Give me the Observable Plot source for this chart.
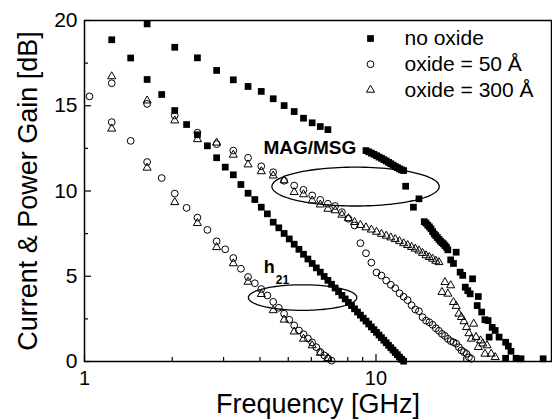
<!DOCTYPE html>
<html><head><meta charset="utf-8">
<script src="https://cdn.jsdelivr.net/npm/d3@7"></script>
<script src="https://cdn.jsdelivr.net/npm/@observablehq/plot@0.6"></script>
<style>body{margin:0;background:#fff}#chart svg{display:block}</style>
</head><body><div id="chart"></div>
<script>
// ---- data: [frequency GHz, gain dB] ----
const noOxideH21 = [[1.24,18.87],[1.44,17.8],[1.64,16.54],[1.84,15.66],[2.04,14.72],[2.24,13.9],[2.44,13.3],[2.64,12.65],[2.84,11.95],[3.04,11.4],[3.24,10.95],[3.44,10.38],[3.64,9.87],[3.84,9.5],[4.04,9.05],[4.24,8.66],[4.44,8.17],[4.64,7.84],[4.84,7.51],[5.04,7.19],[5.24,6.88],[5.44,6.58],[5.64,6.29],[5.84,6.01],[6.04,5.75],[6.24,5.49],[6.44,5.24],[6.64,4.99],[6.84,4.76],[7.04,4.53],[7.24,4.31],[7.44,4.09],[7.64,3.88],[7.84,3.67],[8.04,3.47],[8.24,3.28],[8.44,3.09],[8.64,2.9],[8.84,2.72],[9.04,2.54],[9.24,2.37],[9.44,2.2],[9.64,2.03],[9.84,1.87],[10.04,1.71],[10.24,1.55],[10.44,1.4],[10.64,1.25],[10.84,1.1],[11.04,0.95],[11.24,0.81],[11.44,0.67],[11.64,0.53],[11.84,0.4],[12.04,0.26],[12.24,0.13],[12.44,0.02]];
const noOxideMAG = [[1.64,19.8],[2.04,18.43],[2.44,17.81],[2.84,17.07],[3.24,16.52],[3.64,16.13],[4.04,15.84],[4.44,15.41],[4.84,15.01],[5.24,14.66],[5.64,14.27],[6.04,14.0],[6.44,13.78],[6.84,13.6],[9.24,12.37],[9.44,12.3],[9.64,12.22],[9.84,12.15],[10.04,12.07],[10.24,11.99],[10.44,11.92],[10.64,11.84],[10.84,11.76],[11.04,11.68],[11.24,11.6],[11.44,11.52],[11.64,11.44],[11.84,11.37],[12.04,11.3],[12.24,11.24],[12.44,11.2],[12.64,10.28],[13.44,9.05],[14.04,9.54],[14.64,8.2],[14.84,8.12],[15.04,8.0],[15.24,7.9],[15.44,7.78],[15.64,7.62],[15.84,7.48],[16.04,7.38],[16.24,7.27],[16.44,7.16],[16.64,7.06],[16.84,6.97],[17.04,6.9],[17.24,6.8],[17.44,6.7],[17.64,6.55],[18.04,5.96],[18.44,5.75],[18.84,6.41],[19.44,5.24],[19.84,5.05],[20.24,4.36],[20.64,4.15],[21.04,3.97],[21.44,4.85],[22.24,3.28],[22.44,3.81],[23.04,2.9],[23.64,2.45],[24.24,2.4],[24.44,1.43],[25.04,2.0],[25.64,1.82],[26.44,1.43],[27.84,1.13],[27.84,0.19],[28.44,0.9],[29.04,0.6],[30.24,0.19],[31.44,0.16],[37.44,0.16]];
const oxide50H21 = [[1.04,15.55],[1.24,14.04],[1.44,12.94],[1.64,11.7],[1.84,10.76],[2.04,9.85],[2.24,9.01],[2.44,8.44],[2.64,7.72],[2.84,7.05],[3.04,6.58],[3.24,6.07],[3.44,5.44],[3.64,4.96],[3.84,4.59],[4.04,4.25],[4.24,3.87],[4.44,3.5],[4.64,3.15],[4.84,2.8],[5.04,2.45],[5.24,2.12],[5.44,1.82],[5.64,1.6],[5.84,1.35],[6.04,1.12],[6.24,0.84],[6.44,0.56],[6.64,0.36],[6.84,0.18],[7.04,0.05]];
const oxide50MAG = [[1.24,16.32],[1.64,15.11],[2.04,14.43],[2.44,13.42],[2.84,12.75],[3.24,12.37],[3.64,11.95],[4.04,11.45],[4.44,11.1],[4.84,10.6],[5.24,10.32],[5.64,10.07],[6.04,9.74],[6.44,9.48],[6.84,9.25],[7.24,9.12],[7.64,8.76],[8.04,8.37],[8.44,7.98],[8.84,6.94],[9.24,6.35],[9.64,5.8],[10.04,5.22],[10.44,5.04],[10.84,4.75],[11.24,4.5],[11.64,4.3],[12.04,4.0],[12.44,3.8],[12.84,3.6],[13.24,3.3],[13.64,3.05],[14.04,2.95],[14.44,2.6],[14.84,2.4],[15.24,2.3],[15.64,2.15],[16.04,1.95],[16.44,1.8],[16.84,1.62],[17.24,1.5],[17.64,1.33],[18.04,1.2],[18.44,1.13],[18.84,1.05],[19.24,0.84],[19.64,0.65],[20.04,0.55],[20.44,0.45],[20.84,0.25],[21.24,0.16]];
const oxide300H21 = [[1.24,13.65],[1.64,11.36],[2.04,9.34],[2.44,8.11],[2.84,6.7],[3.24,5.75],[3.64,4.67],[4.04,3.95],[4.44,3.0],[4.84,2.45],[5.24,1.75],[5.64,1.33],[6.04,0.94],[6.44,0.5],[6.84,0.2]];
const oxide300MAG = [[1.24,16.72],[1.64,15.3],[2.04,14.13],[2.44,13.03],[2.84,12.83],[3.24,12.12],[3.64,11.55],[4.04,11.15],[4.44,10.9],[4.84,10.62],[5.24,9.93],[5.64,9.8],[6.04,9.44],[6.44,9.2],[6.84,8.95],[7.24,8.86],[7.64,8.6],[8.04,8.4],[8.44,8.17],[8.84,8.0],[9.24,7.86],[9.64,7.73],[10.04,7.6],[10.44,7.48],[10.84,7.37],[11.24,7.27],[11.64,7.17],[12.04,7.05],[12.44,6.93],[12.84,6.82],[13.24,6.71],[13.64,6.61],[14.04,6.5],[14.44,6.36],[14.84,6.22],[15.24,6.12],[15.64,6.02],[16.04,5.9],[16.44,5.82],[16.84,4.07],[17.24,4.65],[17.64,3.97],[18.04,4.46],[18.44,3.48],[18.84,3.25],[19.24,2.8],[19.64,2.6],[20.04,2.35],[20.44,2.01],[20.84,1.65],[21.24,1.33],[21.64,2.21],[22.04,1.43],[22.44,0.84],[22.84,1.23],[23.24,1.05],[23.64,0.45],[24.04,0.94],[24.84,0.45],[25.64,0.25]];

const legendLabels = ["no oxide", "oxide = 50 Å", "oxide = 300 Å"];
const legendSymbols = ["square", "circle", "triangle"];
const yTicks = [0, 5, 10, 15, 20];
const yMinor = [2.5, 7.5, 12.5, 17.5];
const xLabels = [1, 10];
const xMinor = [2, 3, 4, 5, 6, 7, 8, 9, 20, 30];
// annotation ellipses: centre frequency, centre gain, half-width (decades), half-height (dB)
const ellipseSpecs = [[8.51, 10.26, 0.287, 1.14], [5.60, 3.75, 0.186, 0.75]];

// ---- layout ----
const W = 552, H = 419, mL = 84, mR = 1, mT = 20, mB = 58;
const pw = W - mL - mR, ph = H - mT - mB;
const font = "Liberation Sans, Arial, Helvetica, sans-serif";

const ellipsePts = ellipseSpecs.map(([cf, cg, rd, rg], k) =>
  d3.range(0, 361, 3).map(a => {
    const t = a * Math.PI / 180;
    return {k, f: cf * Math.pow(10, rd * Math.cos(t)), g: cg + rg * Math.sin(t)};
  })).flat();

const xy = {x: d => d[0], y: d => d[1]};
const sq = {...xy, symbol: "square", fill: "black", r: 3.8};
const ci = {...xy, symbol: "circle", fill: "none", stroke: "black", strokeWidth: 1, r: 3.4};
const tr = {...xy, symbol: "triangle", fill: "none", stroke: "black", strokeWidth: 1, r: 3.0};

const legendMarks = legendLabels.flatMap((lab, i) => {
  const s = legendSymbols[i];
  const sty = s === "square" ? {fill: "black", r: 3.8} : {fill: "none", stroke: "black", strokeWidth: 1, r: s === "circle" ? 3.4 : 3.0};
  return [
    Plot.dot([lab], {frameAnchor: "top-right", dx: -181, dy: 18 + 25.7 * i, symbol: s, ...sty}),
    Plot.text([lab], {frameAnchor: "top-right", dx: -147, dy: 18 + 25.7 * i, text: d => d, textAnchor: "start", lineAnchor: "middle", fontSize: 21})
  ];
});

const chart = Plot.plot({
  width: W, height: H, marginLeft: mL, marginRight: mR, marginTop: mT, marginBottom: mB,
  style: {fontFamily: font, color: "black", background: "white"},
  x: {type: "log", domain: [1, 40], axis: null},
  y: {domain: [0, 20], axis: null},
  marks: [
    // ticks (inward)
    Plot.ruleX(xLabels, {x: d => d, insetTop: ph - 7, strokeWidth: 1.2}),
    Plot.ruleX(xMinor, {x: d => d, insetTop: ph - 4, strokeWidth: 1.2}),
    Plot.ruleY(yTicks, {y: d => d, insetRight: pw - 7, strokeWidth: 1.2}),
    Plot.ruleY(yMinor, {y: d => d, insetRight: pw - 4, strokeWidth: 1.2}),
    // tick labels
    Plot.text(yTicks, {y: d => d, text: d => String(d), frameAnchor: "left", dx: -7, textAnchor: "end", lineAnchor: "middle", fontSize: 21}),
    Plot.text(xLabels, {x: d => d, text: d => String(d), frameAnchor: "bottom", dy: 17, lineAnchor: "middle", textAnchor: "middle", fontSize: 20}),
    // axis titles
    Plot.text(["Frequency [GHz]"], {text: d => d, frameAnchor: "bottom", dy: 42.5, lineAnchor: "middle", textAnchor: "middle", fontSize: 27}),
    Plot.text(["Current & Power Gain [dB]"], {text: d => d, frameAnchor: "left", dx: -56, rotate: -90, textAnchor: "middle", lineAnchor: "middle", fontSize: 27}),
    // annotation ellipses
    Plot.line(ellipsePts, {x: "f", y: "g", z: "k", stroke: "black", strokeWidth: 1.3}),
    // data
    Plot.dot(oxide50H21, ci),
    Plot.dot(oxide300H21, tr),
    Plot.dot(oxide50MAG, ci),
    Plot.dot(oxide300MAG, tr),
    Plot.dot(noOxideH21, sq),
    Plot.dot(noOxideMAG, sq),
    // labels
    Plot.text(["MAG/MSG"], {x: 5.93, y: 12.55, text: d => d, fontWeight: "bold", fontSize: 19}),
    Plot.text(["h"], {x: 4.12, y: 5.5, text: d => d, fontWeight: "bold", fontSize: 18, textAnchor: "start"}),
    Plot.text(["21"], {x: 4.53, y: 4.8, text: d => d, fontWeight: "bold", fontSize: 12, textAnchor: "start"}),
    ...legendMarks,
    Plot.frame({stroke: "black", strokeWidth: 1.5})
  ]
});
document.getElementById("chart").appendChild(chart);
</script>
</body></html>
